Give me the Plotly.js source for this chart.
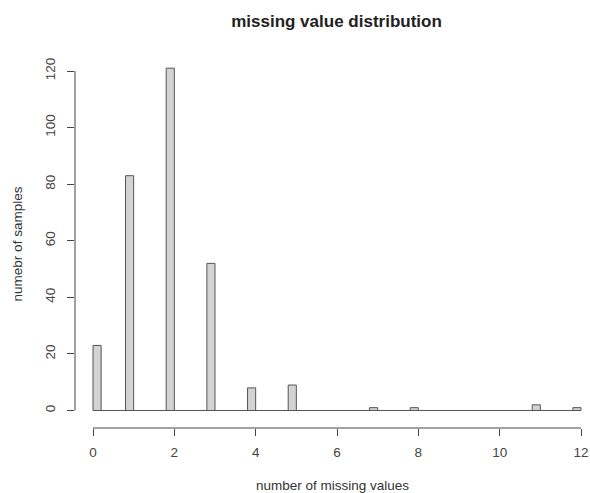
<!DOCTYPE html>
<html>
<head>
<meta charset="utf-8">
<script src="https://cdn.plot.ly/plotly-3.0.1.min.js"></script>
<style>html,body{margin:0;padding:0;background:#fff;}#chart{width:590px;height:493px;}</style>
</head>
<body>
<div id="chart"></div>
<script>
// number of missing values per sample (histogram bins, right-closed, width 0.2)
const missingValues = [0, 1, 2, 3, 4, 5, 7, 8, 11, 12];
const sampleCounts = [23, 83, 121, 52, 8, 9, 1, 1, 2, 1];
const binWidth = 0.2;
const xTicks = [0, 2, 4, 6, 8, 10, 12];
const yTicks = [0, 20, 40, 60, 80, 100, 120];

// R hist: bins (v-0.2, v], lowest bin [0, 0.2]
const binCenters = missingValues.map(v => v === 0 ? binWidth / 2 : v - binWidth / 2);

const font = {family: 'Liberation Sans, Arial, sans-serif', color: '#333'};

const trace = {
  type: 'bar',
  x: binCenters,
  y: sampleCounts,
  width: binWidth,
  marker: {color: '#d3d3d3', line: {color: '#555', width: 1}},
  hoverinfo: 'x+y'
};

const xMin = xTicks[0], xMax = xTicks[xTicks.length - 1];
const yMin = yTicks[0], yMax = yTicks[yTicks.length - 1];

const layout = {
  width: 590, height: 493,
  margin: {l: 75, r: 0, t: 60, b: 65},
  paper_bgcolor: '#fff', plot_bgcolor: '#fff',
  showlegend: false,
  font: font,
  title: {text: '<b>missing value distribution</b>', x: 0.5703, xanchor: 'center', y: 0.957, yanchor: 'middle',
          font: {family: font.family, size: 17, color: '#222'}},
  xaxis: {
    range: [-0.4426, 12.221],
    tickvals: xTicks, ticktext: xTicks.map(String),
    ticks: 'outside', ticklen: 7, tickcolor: '#444', tickwidth: 1,
    ticklabelstandoff: 5,
    showline: false, showgrid: false, zeroline: false,
    tickfont: {family: font.family, size: 13.5, color: '#444'},
    title: {text: 'number of missing values', standoff: 23, font: {family: font.family, size: 13.5, color: '#333'}},
    fixedrange: true
  },
  yaxis: {
    range: [-6.19, 123.9],
    tickvals: yTicks, ticktext: yTicks.map(String),
    ticks: 'outside', ticklen: 7, tickcolor: '#444', tickwidth: 1,
    tickangle: -90,
    ticklabelstandoff: 7,
    showline: false, showgrid: false, zeroline: false,
    tickfont: {family: font.family, size: 13.5, color: '#444'},
    title: {text: 'numebr of samples', standoff: 16, font: {family: font.family, size: 13.5, color: '#333'}},
    fixedrange: true
  },
  shapes: [
    // y axis line from first to last tick
    {type: 'line', xref: 'paper', yref: 'y', x0: 0, x1: 0, y0: yMin, y1: yMax, line: {color: '#444', width: 1}},
    // x axis line from first to last tick
    {type: 'line', xref: 'x', yref: 'paper', x0: xMin, x1: xMax, y0: 0, y1: 0, line: {color: '#444', width: 1}},
    // histogram baseline (empty bins)
    {type: 'line', xref: 'x', yref: 'y', x0: xMin, x1: xMax, y0: 0, y1: 0, line: {color: '#555', width: 1}, layer: 'below'}
  ]
};

Plotly.newPlot('chart', [trace], layout, {displayModeBar: false, staticPlot: true});
</script>
</body>
</html>
